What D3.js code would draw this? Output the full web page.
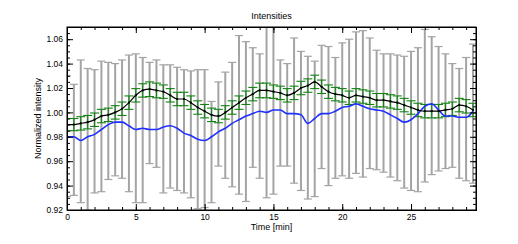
<!DOCTYPE html>
<html>
<head>
<meta charset="utf-8">
<script src="https://cdn.jsdelivr.net/npm/d3@7/dist/d3.min.js"></script>
<style>
  body { margin: 0; background: #fff; }
  text { font-family: "Liberation Sans", Arial, sans-serif; fill: #000; }
</style>
</head>
<body>
<svg id="chart" width="518" height="244"></svg>
<script>
// time grid, one sample every 0.5 min
const times = d3.range(0, 30, 0.5);

// grey bars: spread of single traces (top / bottom)
const greyTop = [1.030, 1.023, 1.043, 1.036, 1.035, 1.042, 1.041, 1.040, 1.043, 1.047,
                 1.048, 1.045, 1.041, 1.043, 1.039, 1.039, 1.037, 1.035, 1.034, 1.035,
                 1.035, 1.009, 1.025, 1.033, 1.041, 1.063, 1.058, 1.053, 1.048, 1.078,
                 1.075, 1.043, 1.040, 1.061, 1.050, 1.046, 1.042, 1.055, 1.054, 1.045,
                 1.057, 1.060, 1.066, 1.067, 1.061, 1.051, 1.048, 1.048, 1.047, 1.046,
                 1.050, 1.053, 1.068, 1.062, 1.054, 1.048, 1.040, 1.036, 1.045, 1.056];
const greyBottom = [0.931, 0.932, 0.926, 0.920, 0.934, 0.935, 0.945, 0.948, 0.946, 0.935,
                    0.926, 0.926, 0.958, 0.955, 0.934, 0.938, 0.936, 0.934, 0.930, 0.921,
                    0.922, 0.926, 0.956, 0.946, 0.939, 0.933, 0.927, 0.955, 0.946, 0.930,
                    0.933, 0.956, 0.956, 0.942, 0.936, 0.929, 0.931, 0.954, 0.940, 0.946,
                    0.948, 0.946, 0.950, 0.947, 0.954, 0.953, 0.951, 0.947, 0.944, 0.938,
                    0.936, 0.935, 0.943, 0.949, 0.952, 0.954, 0.955, 0.946, 0.944, 0.942];

// mean trace (black) and its error (green)
const meanValues = [0.990, 0.990, 0.991, 0.992, 0.994, 0.997, 0.998, 1.000, 1.003, 1.008,
                    1.014, 1.018, 1.019, 1.018, 1.017, 1.014, 1.011, 1.011, 1.008, 1.004,
                    1.001, 0.998, 0.997, 1.000, 1.004, 1.008, 1.012, 1.015, 1.018, 1.018,
                    1.017, 1.016, 1.014, 1.016, 1.020, 1.022, 1.025, 1.021, 1.017, 1.015,
                    1.014, 1.012, 1.014, 1.013, 1.012, 1.010, 1.010, 1.009, 1.008, 1.006,
                    1.004, 1.002, 1.001, 1.001, 1.001, 1.002, 1.003, 1.006, 1.005, 1.002];
const meanError = [0.0050, 0.0050, 0.0055, 0.0055, 0.0055, 0.0055, 0.0055, 0.0055, 0.0055, 0.0055,
                   0.0055, 0.0055, 0.0060, 0.0060, 0.0055, 0.0055, 0.0055, 0.0055, 0.0055, 0.0055,
                   0.0055, 0.0055, 0.0055, 0.0055, 0.0055, 0.0055, 0.0055, 0.0055, 0.0060, 0.0060,
                   0.0055, 0.0055, 0.0055, 0.0055, 0.0055, 0.0055, 0.0055, 0.0055, 0.0055, 0.0055,
                   0.0055, 0.0055, 0.0055, 0.0055, 0.0055, 0.0055, 0.0055, 0.0055, 0.0055, 0.0055,
                   0.0055, 0.0055, 0.0055, 0.0055, 0.0055, 0.0055, 0.0055, 0.0055, 0.0055, 0.0055];

// blue trace
const blueValues = [0.980, 0.980, 0.977, 0.980, 0.982, 0.986, 0.990, 0.992, 0.992, 0.989,
                    0.986, 0.987, 0.986, 0.986, 0.988, 0.989, 0.987, 0.983, 0.981, 0.978,
                    0.977, 0.980, 0.984, 0.987, 0.991, 0.994, 0.997, 0.999, 1.001, 1.000,
                    1.002, 1.002, 0.999, 0.999, 0.998, 0.991, 0.995, 0.999, 0.999, 1.001,
                    1.004, 1.005, 1.007, 1.005, 1.003, 1.002, 1.001, 0.998, 0.995, 0.992,
                    0.994, 0.999, 1.005, 1.007, 1.002, 0.997, 0.997, 0.996, 0.996, 1.001];

const xTicks = [0, 5, 10, 15, 20, 25];
const yTicks = [0.92, 0.94, 0.96, 0.98, 1.00, 1.02, 1.04, 1.06];
const yTickLabels = ["0.92", "0.94", "0.96", "0.98", "1.00", "1.02", "1.04", "1.06"];

const margin = {left: 67, right: 42, top: 27, bottom: 34};
const width = 518, height = 244;

const x = d3.scaleLinear().domain([0, 29.72]).range([margin.left, width - margin.right]);
const y = d3.scaleLinear().domain([0.92, 1.07]).range([height - margin.bottom, margin.top]);

const svg = d3.select('#chart');

svg.append('defs').append('clipPath').attr('id', 'plotclip')
  .append('rect')
  .attr('x', x.range()[0]).attr('y', y.range()[1])
  .attr('width', x.range()[1] - x.range()[0])
  .attr('height', y.range()[0] - y.range()[1]);

const plot = svg.append('g').attr('clip-path', 'url(#plotclip)');

const pts = times.map((t, i) => ({
  t: t, top: greyTop[i], bottom: greyBottom[i],
  mean: meanValues[i], err: meanError[i], blue: blueValues[i]
}));

// grey error bars
const grey = plot.append('g').attr('stroke', '#a4a4a4').attr('fill', 'none');
grey.selectAll('.gbar').data(pts).enter().append('line')
  .attr('stroke-width', 2)
  .attr('x1', d => x(d.t)).attr('x2', d => x(d.t))
  .attr('y1', d => y(d.bottom)).attr('y2', d => y(d.top));
grey.selectAll('.gcapt').data(pts).enter().append('line')
  .attr('stroke-width', 1.2)
  .attr('x1', d => x(d.t) - 4).attr('x2', d => x(d.t) + 4)
  .attr('y1', d => y(d.top)).attr('y2', d => y(d.top));
grey.selectAll('.gcapb').data(pts).enter().append('line')
  .attr('stroke-width', 1.2)
  .attr('x1', d => x(d.t) - 4).attr('x2', d => x(d.t) + 4)
  .attr('y1', d => y(d.bottom)).attr('y2', d => y(d.bottom));

// green error bars
const green = plot.append('g').attr('stroke', '#138213').attr('stroke-width', 1.1).attr('fill', 'none');
green.selectAll('.ebar').data(pts).enter().append('line')
  .attr('x1', d => x(d.t)).attr('x2', d => x(d.t))
  .attr('y1', d => y(d.mean - d.err)).attr('y2', d => y(d.mean + d.err));
green.selectAll('.ecapt').data(pts).enter().append('line')
  .attr('x1', d => x(d.t) - 4.5).attr('x2', d => x(d.t) + 4.5)
  .attr('y1', d => y(d.mean + d.err)).attr('y2', d => y(d.mean + d.err));
green.selectAll('.ecapb').data(pts).enter().append('line')
  .attr('x1', d => x(d.t) - 4.5).attr('x2', d => x(d.t) + 4.5)
  .attr('y1', d => y(d.mean - d.err)).attr('y2', d => y(d.mean - d.err));

// blue line
plot.append('path').datum(pts)
  .attr('fill', 'none').attr('stroke', '#1f2fff').attr('stroke-width', 1.6)
  .attr('d', d3.line().x(d => x(d.t)).y(d => y(d.blue)).curve(d3.curveMonotoneX));

// black mean line with markers
plot.append('path').datum(pts)
  .attr('fill', 'none').attr('stroke', '#000').attr('stroke-width', 1.2)
  .attr('d', d3.line().x(d => x(d.t)).y(d => y(d.mean)).curve(d3.curveMonotoneX));
plot.selectAll('.mk').data(pts).enter().append('circle')
  .attr('cx', d => x(d.t)).attr('cy', d => y(d.mean)).attr('r', 1.1).attr('fill', '#000');

// axes, ticks pointing inward on all four sides
const xMinor = d3.range(0, 30, 1);
const yMinor = d3.range(0.92, 1.0701, 0.005);

const gB = svg.append('g').attr('transform', `translate(0,${y.range()[0]})`)
  .call(d3.axisBottom(x).tickValues(xMinor).tickSize(-3).tickFormat(''));
gB.append('g').call(d3.axisBottom(x).tickValues(xTicks).tickSize(-6).tickPadding(4).tickFormat(d3.format('d')));

const gT = svg.append('g').attr('transform', `translate(0,${y.range()[1]})`)
  .call(d3.axisTop(x).tickValues(xMinor).tickSize(-3).tickFormat(''));
gT.append('g').call(d3.axisTop(x).tickValues(xTicks).tickSize(-6).tickFormat(''));

const gL = svg.append('g').attr('transform', `translate(${x.range()[0]},0)`)
  .call(d3.axisLeft(y).tickValues(yMinor).tickSize(-3).tickFormat(''));
gL.append('g').call(d3.axisLeft(y).tickValues(yTicks).tickSize(-6).tickPadding(4)
  .tickFormat((d, i) => yTickLabels[i]));

const gR = svg.append('g').attr('transform', `translate(${x.range()[1]},0)`)
  .call(d3.axisRight(y).tickValues(yMinor).tickSize(-3).tickFormat(''));
gR.append('g').call(d3.axisRight(y).tickValues(yTicks).tickSize(-6).tickFormat(''));

svg.selectAll('.domain').attr('stroke', '#000');
svg.selectAll('.tick line').attr('stroke', '#000');
svg.selectAll('.tick text').attr('font-size', 8.5).attr('font-family', '"Liberation Sans", Arial, sans-serif');

// frame on top
svg.append('rect')
  .attr('x', x.range()[0]).attr('y', y.range()[1])
  .attr('width', x.range()[1] - x.range()[0])
  .attr('height', y.range()[0] - y.range()[1])
  .attr('fill', 'none').attr('stroke', '#000').attr('stroke-width', 1);

// titles
svg.append('text').attr('x', (x.range()[0] + x.range()[1]) / 2).attr('y', 19)
  .attr('text-anchor', 'middle').attr('font-size', 9).text('Intensities');
svg.append('text').attr('x', (x.range()[0] + x.range()[1]) / 2).attr('y', 230)
  .attr('text-anchor', 'middle').attr('font-size', 9).text('Time [min]');
svg.append('text')
  .attr('transform', `translate(41,${(y.range()[0] + y.range()[1]) / 2}) rotate(-90)`)
  .attr('text-anchor', 'middle').attr('font-size', 9).text('Normalized intensity');
</script>
</body>
</html>
